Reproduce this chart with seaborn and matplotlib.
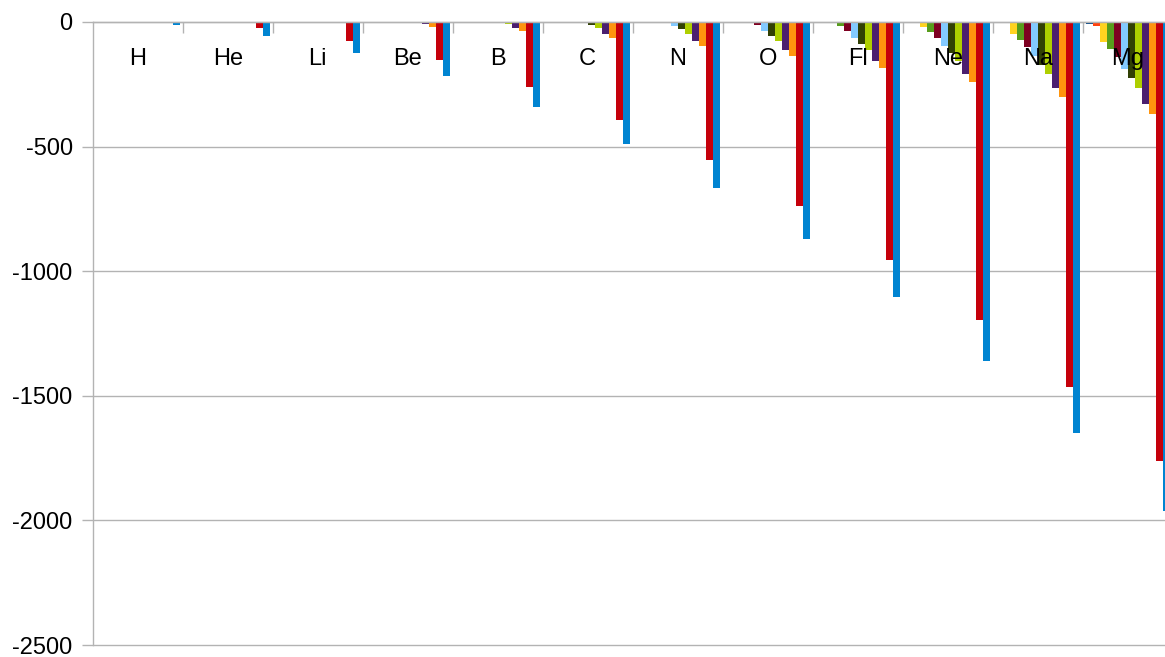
import matplotlib
matplotlib.use("Agg")
import matplotlib.pyplot as plt
import seaborn as sns
import pandas as pd
import numpy as np

# Categories (element groups) as labelled in the chart
elements = ["H", "He", "Li", "Be", "B", "C", "N", "O", "Fl", "Ne", "Na", "Mg"]

# Values per group, listed from series 1 (leftmost) to series 12 (rightmost);
# groups with fewer values fill the rightmost series.
vals_H  = [-3, -3, -13.6]
vals_He = [-3, -24.6, -54.4]
vals_Li = [-5.4, -75.6, -122.5]
vals_Be = [-9.3, -18.2, -153.9, -217.7]
vals_B  = [-8.3, -25.2, -37.9, -259.4, -340.2]
vals_C  = [-11.3, -24.4, -47.9, -64.5, -392.1, -490.0]
vals_N  = [-14.5, -29.6, -47.4, -77.5, -97.9, -552.1, -667.0]
vals_O  = [-13.6, -35.1, -54.9, -77.4, -113.9, -138.1, -739.3, -871.4]
vals_Fl = [-17.4, -35.0, -62.7, -87.2, -114.2, -157.2, -185.2, -953.9, -1103.1]
vals_Ne = [-21.6, -41.0, -63.5, -97.1, -126.2, -157.9, -207.3, -239.1, -1195.8, -1362.2]
vals_Na = [-5.1, -47.3, -71.6, -98.9, -138.4, -172.2, -208.5, -264.3, -299.9, -1465.1, -1648.7]
vals_Mg = [-7.6, -15.0, -80.1, -109.3, -141.3, -186.8, -225.0, -266.0, -328.1, -367.5, -1761.8, -1962.7]

series = [f"S{i}" for i in range(1, 13)]
colors = ["#004586", "#ff420e", "#ffd320", "#579d1c", "#7e0021", "#83caff",
          "#314004", "#aecf00", "#4b1f6f", "#ff950e", "#c5000b", "#0084d1"]

y_ticks = [0, -500, -1000, -1500, -2000, -2500]
y_tick_labels = ["0", "-500", "-1000", "-1500", "-2000", "-2500"]

all_vals = [vals_H, vals_He, vals_Li, vals_Be, vals_B, vals_C,
            vals_N, vals_O, vals_Fl, vals_Ne, vals_Na, vals_Mg]
rows = []
for el, vs in zip(elements, all_vals):
    start = len(series) - len(vs)
    for k, v in enumerate(vs):
        rows.append({"element": el, "series": series[start + k], "value": v})
df = pd.DataFrame(rows)

sns.set_theme(style="white")
plt.rcParams["font.family"] = ["Liberation Sans", "DejaVu Sans"]
plt.rcParams["axes.unicode_minus"] = False

W, H = 1165, 657
fig = plt.figure(figsize=(W / 100, H / 100), dpi=100)
left_px, right_px, top_px, bot_px = 92.7, 1172.7, 22, 645
ax = fig.add_axes([left_px / W, (H - bot_px) / H,
                   (right_px - left_px) / W, (bot_px - top_px) / H])

sns.barplot(data=df, x="element", y="value", hue="series",
            order=elements, hue_order=series, palette=colors,
            saturation=1, width=0.933, dodge=True, legend=False,
            edgecolor="none", linewidth=0, errorbar=None, ax=ax)

grid_c = "#b3b3b3"
ax.set_ylim(-2500, 0)
ax.set_xlim(-0.5, len(elements) - 0.5)
ax.set_yticks(y_ticks)
ax.set_yticklabels(y_tick_labels)
ax.set_xlabel("")
ax.set_ylabel("")

ax.set_axisbelow(False)
ax.grid(False)
for t in y_ticks:
    ax.axhline(t, color=grid_c, lw=1.0, zorder=0.5, clip_on=False)

for side in ["left", "top", "right", "bottom"]:
    ax.spines[side].set_color(grid_c)
    ax.spines[side].set_linewidth(1.0)
ax.spines["bottom"].set_visible(False)
ax.spines["right"].set_visible(False)

ax.tick_params(axis="y", which="major", left=True, length=7.9, width=1,
               color=grid_c, pad=6.5, labelsize=17, labelcolor="black")

# x axis at the top (value 0), labels inside the plot below the zero line
ax.xaxis.set_ticks_position("top")
ax.set_xticks(np.arange(0.5, len(elements) - 0.5, 1.0), minor=True)
ax.tick_params(axis="x", which="minor", top=True, bottom=False, direction="in",
               length=7.9, width=1, color=grid_c)
ax.tick_params(axis="x", which="major", top=True, bottom=False, length=0,
               labeltop=True, labelbottom=False, labelsize=17,
               labelcolor="black", pad=-31.0)
for lab in ax.get_xticklabels():
    lab.set_va("baseline")

fig.savefig("out.png", dpi=100)
